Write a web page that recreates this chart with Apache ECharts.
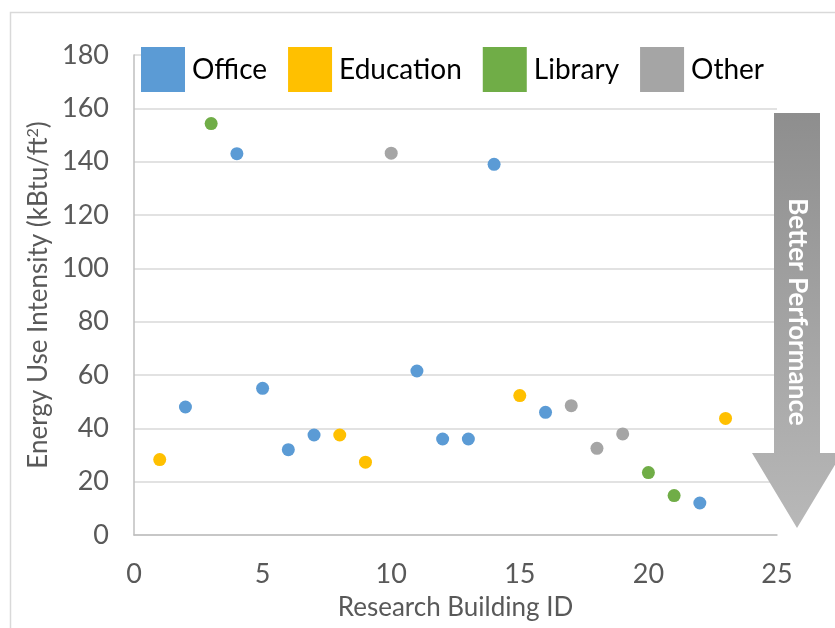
<!DOCTYPE html>
<html>
<head>
<meta charset="utf-8">
<title>Energy Use Intensity by Research Building</title>
<script src="https://cdn.jsdelivr.net/npm/echarts@6/dist/echarts.min.js"></script>
<style>
  html, body { margin: 0; padding: 0; background: #fff; }
  #chart { width: 835px; height: 628px; }
</style>
</head>
<body>
<div id="chart"></div>
<script>
// building type -> [building id, EUI] pairs
const seriesNames = ['Office', 'Education', 'Library', 'Other']
const seriesColors = ['#5B9BD5', '#FFC000', '#70AD47', '#A5A5A5']

const officeData = [[2, 48], [4, 143], [5, 55], [6, 32], [7, 37.5], [11, 61.5], [12, 36], [13, 36], [14, 139], [16, 46], [22, 12]]
const educationData = [[1, 28.3], [8, 37.5], [9, 27.3], [15, 52.3], [23, 43.7]]
const libraryData = [[3, 154.3], [20, 23.4], [21, 14.8]]
const otherData = [[10, 143.2], [17, 48.5], [18, 32.5], [19, 37.9]]

const allData = [officeData, educationData, libraryData, otherData]

const xMin = 0, xMax = 25, xStep = 5
const yMin = 0, yMax = 180, yStep = 20

const FONT = 'Lato, "DejaVu Sans", sans-serif'
const axisGray = '#595959'

const chart = echarts.init(document.getElementById('chart'))

const option = {
  backgroundColor: '#fff',
  textStyle: { fontFamily: FONT },
  grid: {
    left: 134,
    right: 58,
    top: 55,
    bottom: 93
  },
  legend: {
    data: seriesNames.map((n, i) => ({ name: n, itemStyle: { color: seriesColors[i] } })),
    icon: 'rect',
    left: 141,
    top: 47,
    itemWidth: 44,
    itemHeight: 45,
    itemGap: 21,
    padding: [0, 40, 0, 0],
    backgroundColor: '#fff',
    textStyle: {
      fontFamily: FONT,
      fontSize: 28,
      color: '#000',
      padding: [0, 0, 0, 2]
    }
  },
  xAxis: {
    type: 'value',
    min: xMin,
    max: xMax,
    interval: xStep,
    name: 'Research Building ID',
    nameLocation: 'middle',
    nameGap: 60,
    nameTextStyle: { fontSize: 26, color: axisGray, fontFamily: FONT },
    axisLine: { show: true, lineStyle: { color: '#bfbfbf', width: 1.5 } },
    axisTick: { show: false },
    axisLabel: { fontSize: 27, color: axisGray, margin: 26, fontFamily: FONT },
    splitLine: { show: false }
  },
  yAxis: {
    type: 'value',
    min: yMin,
    max: yMax,
    interval: yStep,
    name: '{a|Energy Use Intensity (kBtu/ft}{s|2}{a|)}',
    nameLocation: 'middle',
    nameGap: 80,
    nameTextStyle: {
      color: axisGray,
      rich: {
        a: { fontSize: 26, color: axisGray, fontFamily: FONT },
        s: { fontSize: 16, color: axisGray, fontFamily: FONT, verticalAlign: 'top', padding: [0, 0, 11, 0] }
      }
    },
    axisLine: { show: true, lineStyle: { color: '#bfbfbf', width: 1.5 } },
    axisTick: { show: false },
    axisLabel: { fontSize: 27, color: axisGray, margin: 25, fontFamily: FONT },
    splitLine: { show: true, lineStyle: { color: '#d9d9d9', width: 1.5 } }
  },
  series: seriesNames.map((n, i) => ({
    name: n,
    type: 'scatter',
    symbol: 'circle',
    symbolSize: 13,
    data: allData[i],
    itemStyle: { color: seriesColors[i], opacity: 1 },
    z: 3
  })),
  // outer frame + "Better Performance" arrow
  graphic: [
    {
      type: 'rect',
      left: 8,
      top: 10,
      shape: { width: 900, height: 700 },
      style: { fill: 'none', stroke: '#d9d9d9', lineWidth: 1.5 },
      silent: true,
      z: -1
    },
    {
      type: 'polygon',
      shape: {
        points: [[774, 113], [820, 113], [820, 453], [842, 453], [797, 528], [752, 453], [774, 453]]
      },
      style: {
        fill: new echarts.graphic.LinearGradient(0, 0, 0, 1, [
          { offset: 0, color: '#8e8e8e' },
          { offset: 1, color: '#b8b8b8' }
        ])
      },
      silent: true,
      z: 10
    },
    {
      type: 'text',
      x: 797,
      y: 312,
      rotation: -Math.PI / 2,
      style: {
        text: 'Better Performance',
        fill: '#fff',
        font: 'bold 26px ' + FONT,
        align: 'center',
        verticalAlign: 'middle'
      },
      silent: true,
      z: 11
    }
  ]
}

chart.setOption(option)
</script>
</body>
</html>
